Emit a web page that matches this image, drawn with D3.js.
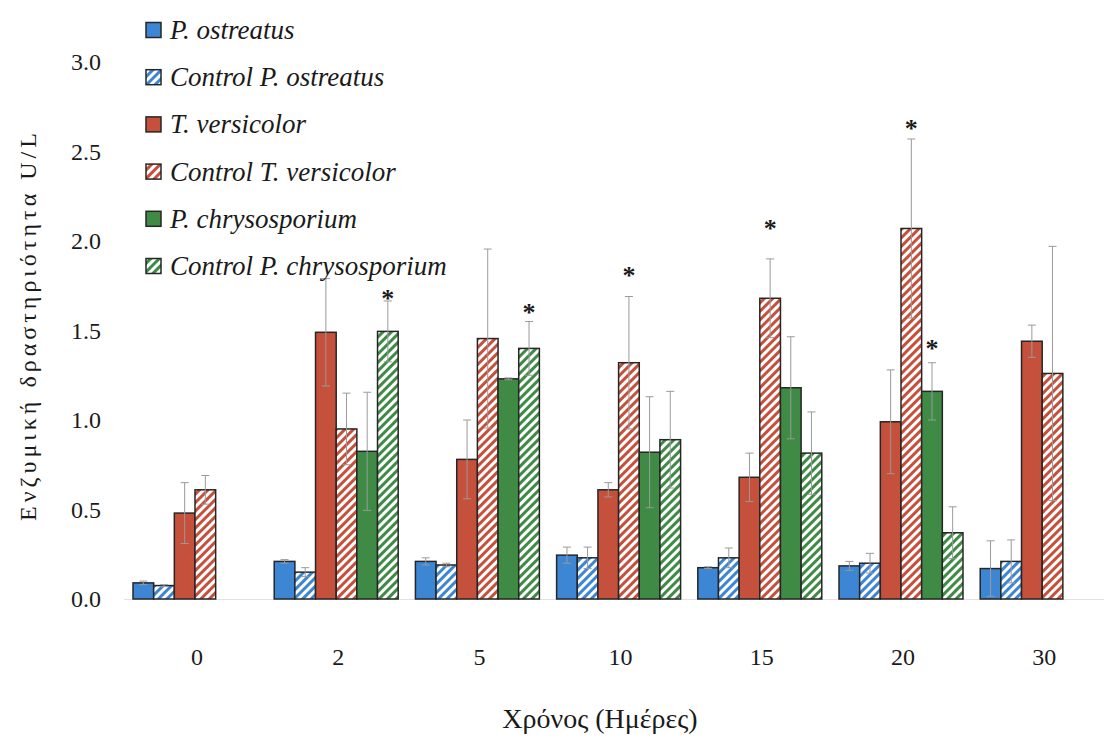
<!DOCTYPE html>
<html>
<head>
<meta charset="utf-8">
<script src="https://cdn.jsdelivr.net/npm/d3@7/dist/d3.min.js"></script>
<style>
  html, body { margin: 0; padding: 0; background: #ffffff; }
  svg { display: block; }
  svg text { fill: #1a1a1a; }
</style>
</head>
<body>
<svg id="chart" width="1104" height="739"></svg>
<script>
// ---------------- DATA ----------------
const categories = ["0", "2", "5", "10", "15", "20", "30"];
const seriesNames = ["P. ostreatus", "Control P. ostreatus", "T. versicolor",
                     "Control T. versicolor", "P. chrysosporium", "Control P. chrysosporium"];
const yTicks = [0, 0.5, 1.0, 1.5, 2.0, 2.5, 3.0];

const pOstreatus        = [0.09, 0.21, 0.21, 0.245, 0.175, 0.185, 0.17];
const ctrlPOstreatus    = [0.075, 0.15, 0.19, 0.23, 0.23, 0.20, 0.21];
const tVersicolor       = [0.48, 1.49, 0.78, 0.61, 0.68, 0.99, 1.44];
const ctrlTVersicolor   = [0.61, 0.95, 1.455, 1.32, 1.68, 2.07, 1.26];
const pChrysosporium    = [null, 0.825, 1.23, 0.82, 1.18, 1.16, null];
const ctrlPChrysosporium= [null, 1.495, 1.40, 0.89, 0.815, 0.37, null];

const errPOstreatus        = [0.01, 0.01, 0.02, 0.045, 0.005, 0.025, 0.155];
const errCtrlPOstreatus    = [0.005, 0.025, 0.01, 0.06, 0.055, 0.055, 0.12];
const errTVersicolor       = [0.17, 0.30, 0.22, 0.04, 0.135, 0.29, 0.09];
const errCtrlTVersicolor   = [0.08, 0.20, 0.50, 0.37, 0.22, 0.50, 0.71];
const errPChrysosporium    = [null, 0.33, 0.005, 0.31, 0.285, 0.16, null];
const errCtrlPChrysosporium= [null, 0.17, 0.15, 0.27, 0.23, 0.145, null];

// significance asterisks: category, series index, level (U/L) of the star centre
const starCategories = ["2", "5", "10", "15", "20", "20"];
const starSeries     = [5, 5, 3, 3, 3, 4];
const starLevels     = [1.71, 1.63, 1.84, 2.10, 2.66, 1.43];

const seriesValues = [pOstreatus, ctrlPOstreatus, tVersicolor, ctrlTVersicolor, pChrysosporium, ctrlPChrysosporium];
const seriesErrors = [errPOstreatus, errCtrlPOstreatus, errTVersicolor, errCtrlTVersicolor, errPChrysosporium, errCtrlPChrysosporium];

// ---------------- STYLE ----------------
const FONT = '"Liberation Serif", "Times New Roman", Tinos, "Noto Serif", "DejaVu Serif", Times, serif';
const baseColors = ["#3d86d3", "#3d86d3", "#c5503b", "#c5503b", "#3f8b46", "#3f8b46"];
const hatched    = [false, true, false, true, false, true];

const svg = d3.select("#chart");
const defs = svg.append("defs");
seriesNames.forEach((s, i) => {
  if (!hatched[i]) return;
  const p = defs.append("pattern")
    .attr("id", "hatch" + i)
    .attr("patternUnits", "userSpaceOnUse")
    .attr("width", 6).attr("height", 6)
    .attr("patternTransform", "rotate(45)");
  p.append("rect").attr("width", 6).attr("height", 6).attr("fill", "#ffffff");
  p.append("rect").attr("width", 3).attr("height", 6).attr("fill", baseColors[i]);
});
const fillFor = i => hatched[i] ? `url(#hatch${i})` : baseColors[i];

// ---------------- SCALES ----------------
const y = d3.scaleLinear().domain([0, 3]).range([599, 62]);
const x0 = d3.scaleBand().domain(categories).range([124.4, 1112.8])
  .paddingInner(0.122).paddingOuter(0.061);
const x1 = d3.scaleBand().domain(d3.range(seriesNames.length)).range([0, x0.bandwidth()]);

// baseline
svg.append("line")
  .attr("x1", 124).attr("x2", 1104)
  .attr("y1", y(0) + 0.5).attr("y2", y(0) + 0.5)
  .attr("stroke", "#e2e2e2").attr("stroke-width", 1);

// ---------------- BARS ----------------
const rows = [];
categories.forEach((c, ci) => {
  seriesNames.forEach((s, si) => {
    const v = seriesValues[si][ci];
    if (v === null) return;
    rows.push({ c, si, v, e: seriesErrors[si][ci] });
  });
});

const gBars = svg.append("g");
gBars.selectAll("rect").data(rows).join("rect")
  .attr("x", d => x0(d.c) + x1(d.si))
  .attr("y", d => y(d.v))
  .attr("width", x1.bandwidth())
  .attr("height", d => y(0) - y(d.v))
  .attr("fill", d => fillFor(d.si))
  .attr("stroke", "#262626")
  .attr("stroke-width", 1.5);

// error bars
const gErr = svg.append("g").attr("stroke", "#9a9a9a").attr("stroke-width", 1);
const cap = 4;
rows.forEach(d => {
  const cx = x0(d.c) + x1(d.si) + x1.bandwidth() / 2;
  const top = y(d.v + d.e), bot = y(Math.max(0, d.v - d.e));
  gErr.append("line").attr("x1", cx).attr("x2", cx).attr("y1", top).attr("y2", bot);
  gErr.append("line").attr("x1", cx - cap).attr("x2", cx + cap).attr("y1", top).attr("y2", top);
  gErr.append("line").attr("x1", cx - cap).attr("x2", cx + cap).attr("y1", bot).attr("y2", bot);
});

// asterisks
svg.append("g").selectAll("text").data(starCategories.map((c, i) => ({ c, si: starSeries[i], lv: starLevels[i] })))
  .join("text")
  .attr("x", d => x0(d.c) + x1(d.si) + x1.bandwidth() / 2)
  .attr("y", d => y(d.lv) + 14)
  .attr("text-anchor", "middle")
  .style("font-family", FONT)
  .attr("font-size", 26)
  .attr("font-weight", "bold")
  .text("*");

// ---------------- AXES ----------------
const yAxis = d3.axisLeft(y).tickValues(yTicks).tickFormat(d3.format(".1f")).tickSize(0).tickPadding(0);
const gy = svg.append("g").attr("transform", "translate(101,0)").call(yAxis);
gy.select(".domain").remove();
gy.selectAll("text").attr("font-size", 24).style("font-family", FONT).attr("fill", "#1a1a1a");

const xAxis = d3.axisBottom(x0).tickSize(0).tickPadding(0);
const gx = svg.append("g").attr("transform", "translate(2,648)").call(xAxis);
gx.select(".domain").remove();
gx.selectAll("text").attr("font-size", 24).style("font-family", FONT).attr("fill", "#1a1a1a");

// axis titles
svg.append("text")
  .attr("transform", "translate(36,325) rotate(-90)")
  .attr("text-anchor", "middle")
  .style("font-family", FONT)
  .attr("font-size", 24)
  .attr("letter-spacing", 4)
  .text("Ενζυμική δραστηριότητα U/L");

svg.append("text")
  .attr("x", 600).attr("y", 728)
  .attr("text-anchor", "middle")
  .style("font-family", FONT)
  .attr("font-size", 28)
  .text("Χρόνος (Ημέρες)");

// ---------------- LEGEND ----------------
const legend = svg.append("g");
seriesNames.forEach((s, i) => {
  const cy = 30 + i * 47.2;
  legend.append("rect")
    .attr("x", 146).attr("y", cy - 7.5)
    .attr("width", 15).attr("height", 15)
    .attr("fill", fillFor(i))
    .attr("stroke", "#262626").attr("stroke-width", 1.5);
  legend.append("text")
    .attr("x", 170).attr("y", cy + 9)
    .style("font-family", FONT)
    .attr("font-size", 27)
    .attr("font-style", "italic")
    .text(s);
});
</script>
</body>
</html>
